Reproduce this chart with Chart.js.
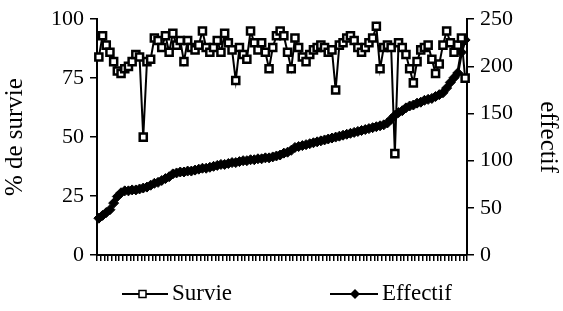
<!DOCTYPE html>
<html>
<head>
<meta charset="utf-8">
<script src="https://cdn.jsdelivr.net/npm/chart.js@4"></script>
<style>
  html, body { margin: 0; padding: 0; background: #fff; }
  #box { width: 563px; height: 311px; }
</style>
</head>
<body>
<div id="box"><canvas id="graphe"></canvas></div>
<script>
// % de survie par lot
const survie = [
  84, 93, 89, 86, 82, 78, 77, 79, 80, 82,
  85, 84, 50, 82, 83, 92, 91, 88, 93, 86,
  94, 89, 91, 82, 91, 88, 87, 89, 95, 88,
  86, 88, 91, 86, 94, 90, 87, 74, 88, 85,
  83, 95, 90, 87, 90, 86, 79, 88, 93, 95,
  93, 86, 79, 92, 88, 84, 82, 85, 87, 88,
  89, 88, 86, 87, 70, 89, 90, 92, 93, 91,
  88, 86, 88, 90, 92, 97, 79, 88, 89, 88,
  43, 90, 88, 85, 79, 73, 82, 87, 88, 89,
  83, 77, 81, 89, 95, 90, 86, 89, 92, 75
];

// effectif par lot (axe de droite)
const effectif = [
  39, 42, 45, 48, 55, 62, 66, 68, 68, 69,
  69, 70, 71, 72, 74, 76, 77, 79, 81, 83,
  86, 87, 88, 88, 89, 89, 90, 91, 92, 92,
  93, 94, 95, 96, 96, 97, 98, 98, 99, 100,
  100, 101, 101, 102, 102, 103, 103, 104, 105, 106,
  108, 109, 111, 114, 115, 116, 117, 118, 119, 120,
  121, 122, 123, 124, 125, 126, 127, 128, 129, 130,
  131, 132, 133, 134, 135, 136, 137, 138, 140, 144,
  148, 151, 153, 156, 158, 159, 161, 162, 164, 165,
  166, 168, 170, 172, 177, 183, 188, 193, 215, 228
];

const lots = survie.map((v, i) => String(i + 1));
const nomsSeries = ["Survie", "Effectif"];

const police = "'Liberation Serif', 'Times New Roman', serif";

// legende du bas : trait + marqueur + texte
const legendeBas = {
  id: "legendeBas",
  afterDraw(chart) {
    const ctx = chart.ctx;
    const y = 294;
    ctx.save();
    ctx.strokeStyle = "#000";
    ctx.lineWidth = 2;

    // Survie
    ctx.beginPath();
    ctx.moveTo(122, y); ctx.lineTo(168, y);
    ctx.stroke();
    ctx.fillStyle = "#fff";
    ctx.lineWidth = 1.5;
    ctx.fillRect(139, y - 3.5, 7, 7);
    ctx.strokeRect(139, y - 3.5, 7, 7);

    // Effectif
    ctx.lineWidth = 2;
    ctx.beginPath();
    ctx.moveTo(330, y); ctx.lineTo(378, y);
    ctx.stroke();
    ctx.fillStyle = "#000";
    ctx.beginPath();
    ctx.moveTo(355, y - 5); ctx.lineTo(360, y); ctx.lineTo(355, y + 5); ctx.lineTo(350, y);
    ctx.closePath();
    ctx.fill();

    ctx.fillStyle = "#000";
    ctx.font = "23px " + police;
    ctx.textBaseline = "middle";
    ctx.fillText(nomsSeries[0], 172, y);
    ctx.fillText(nomsSeries[1], 382, y);
    ctx.restore();
  }
};

const ctx = document.getElementById("graphe").getContext("2d");

new Chart(ctx, {
  type: "line",
  data: {
    labels: lots,
    datasets: [
      {
        label: nomsSeries[0],
        data: survie,
        yAxisID: "y",
        borderColor: "#000",
        borderWidth: 2,
        pointStyle: "rect",
        pointRadius: 5,
        pointBackgroundColor: "#fff",
        pointBorderColor: "#000",
        pointBorderWidth: 2.5,
        tension: 0
      },
      {
        label: nomsSeries[1],
        data: effectif,
        yAxisID: "y2",
        borderColor: "#000",
        borderWidth: 3,
        pointStyle: "rectRot",
        pointRadius: 5,
        pointBackgroundColor: "#000",
        pointBorderColor: "#000",
        pointBorderWidth: 1,
        tension: 0
      }
    ]
  },
  options: {
    responsive: true,
    maintainAspectRatio: false,
    animation: false,
    devicePixelRatio: 1,
    layout: { padding: { top: 18, left: 0, right: 0, bottom: 0 } },
    plugins: {
      legend: { display: false },
      tooltip: { enabled: false }
    },
    scales: {
      x: {
        offset: true,
        afterFit: function (s) { s.height = 56; },
        grid: { offset: true, drawOnChartArea: false, drawTicks: true, tickLength: 6, color: "#000", lineWidth: 1.5 },
        border: { color: "#000", width: 2 },
        ticks: { display: false }
      },
      y: {
        position: "left",
        min: 0,
        max: 100,
        afterFit: function (s) { s.width = 97; },
        grid: { drawOnChartArea: false, drawTicks: true, tickLength: 7, color: "#000", lineWidth: 1.5 },
        border: { color: "#000", width: 2 },
        ticks: { stepSize: 25, color: "#000", padding: 6, font: { family: police, size: 22 } },
        title: { display: true, text: "% de survie", color: "#000", padding: { top: 0, bottom: 0 }, font: { family: police, size: 25 } }
      },
      y2: {
        position: "right",
        min: 0,
        max: 250,
        afterFit: function (s) { s.width = 96; },
        grid: { drawOnChartArea: false, drawTicks: true, tickLength: 7, color: "#000", lineWidth: 1.5 },
        border: { color: "#000", width: 2 },
        ticks: { stepSize: 50, color: "#000", padding: 6, font: { family: police, size: 22 } },
        title: { display: true, text: "effectif", color: "#000", padding: { top: 0, bottom: 0 }, font: { family: police, size: 25 } }
      }
    }
  },
  plugins: [legendeBas]
});
</script>
</body>
</html>
